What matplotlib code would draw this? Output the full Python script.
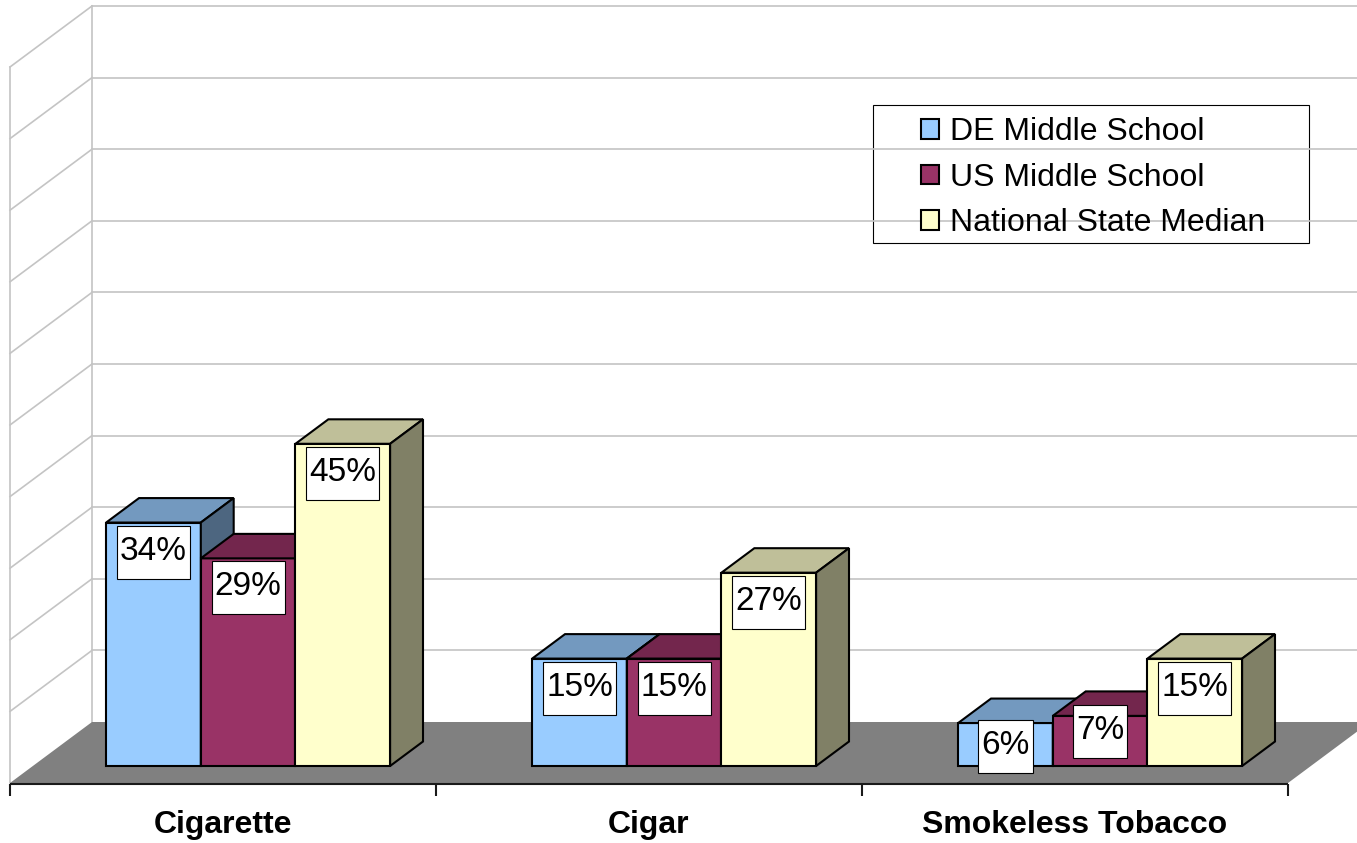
import matplotlib
matplotlib.use('Agg')
import matplotlib.pyplot as plt
from matplotlib.patches import Polygon, Rectangle, Patch
from matplotlib.colors import to_rgb

# ---------------- data ----------------
categories = ['Cigarette', 'Cigar', 'Smokeless Tobacco']
series_names = ['DE Middle School', 'US Middle School', 'National State Median']
de_middle = [34, 15, 6]
us_middle = [29, 15, 7]
national_median = [45, 27, 15]
series_values = [de_middle, us_middle, national_median]
y_max = 100
grid_step = 10

# ---------------- style / layout ----------------
front_colors = ['#99CCFF', '#993366', '#FFFFCC']
FONT = 'Liberation Sans'
W, H, DPI = 1357, 843, 100
PX_LEFT = 10          # front-left corner of floor (px)
PX_CAT = 426          # px per category at the floor front
PX_PER_PCT = 7.16     # px per percent
PX_FLOOR_FRONT = 783  # pixel row of the floor front edge
DEPTH_DX, DEPTH_DY = 82, 61   # px shift from floor front to floor back
BAR_D0, BAR_D1 = 0.279, 0.68  # bar depth range (0=front, 1=back)
BAR_W = 0.2222
BAR_LEFT = 0.172
LABEL_DROP_DEFAULT = 4.0
LABEL_DROP = {(0, 2): 3.2, (1, 2): 2.1}   # (series, category) -> drop in %

plt.rcParams['font.family'] = [FONT, 'DejaVu Sans']

fig = plt.figure(figsize=(W / DPI, H / DPI), dpi=DPI)
ax = fig.add_axes([0, 0, 1, 1])
ax.axis('off')
ax.set_xlim(-PX_LEFT / PX_CAT, (W - PX_LEFT) / PX_CAT)
ax.set_ylim((PX_FLOOR_FRONT - H) / PX_PER_PCT, PX_FLOOR_FRONT / PX_PER_PCT)


def proj(x, d, v):
    """x: category units at the front, d: depth 0..1, v: value in percent."""
    return (x + d * DEPTH_DX / PX_CAT, v + d * DEPTH_DY / PX_PER_PCT)


n_cat = len(categories)
grid_color = '#c4c4c4'

# floor
floor = Polygon([proj(0, 0, 0), proj(0, 1, 0), proj(n_cat, 1, 0), proj(n_cat, 0, 0)],
                closed=True, facecolor='#808080', edgecolor='none', zorder=2)
ax.add_patch(floor)

# walls & gridlines
for v in range(grid_step, y_max + 1, grid_step):
    xs, ys = zip(proj(0, 1, v), proj(n_cat + 0.2, 1, v))
    ax.plot(xs, ys, color=grid_color, lw=1.2, zorder=1)
    xs, ys = zip(proj(0, 0, v), proj(0, 1, v))
    ax.plot(xs, ys, color=grid_color, lw=1.2, zorder=1)
for d in (0, 1):
    xs, ys = zip(proj(0, d, 0), proj(0, d, y_max))
    ax.plot(xs, ys, color=grid_color, lw=1.2, zorder=1)

# category axis line & ticks
ax_off = -1.0 / PX_PER_PCT
ax.plot([0, n_cat], [ax_off, ax_off], color='#1a1a1a', lw=1.5, zorder=2.5,
        solid_capstyle='butt')
for i in range(n_cat + 1):
    ax.plot([i, i], [ax_off, ax_off - 12 / PX_PER_PCT], color='#1a1a1a', lw=1.5,
            zorder=2.5, solid_capstyle='butt')
for i, c in enumerate(categories):
    ax.text(i + 0.5, (PX_FLOOR_FRONT - 825) / PX_PER_PCT, c, ha='center', va='center',
            fontsize=23, fontweight='bold', color='black')


def shade(c, f):
    r, g, b = to_rgb(c)
    return (r * f, g * f, b * f)


# bars
z = 3.0
label_texts = []
for i in range(n_cat):
    for j, vals in enumerate(series_values):
        v = vals[i]
        x0 = i + BAR_LEFT + j * BAR_W
        x1 = x0 + BAR_W
        col = front_colors[j]
        front = [proj(x0, BAR_D0, 0), proj(x1, BAR_D0, 0), proj(x1, BAR_D0, v), proj(x0, BAR_D0, v)]
        top = [proj(x0, BAR_D0, v), proj(x1, BAR_D0, v), proj(x1, BAR_D1, v), proj(x0, BAR_D1, v)]
        side = [proj(x1, BAR_D0, 0), proj(x1, BAR_D1, 0), proj(x1, BAR_D1, v), proj(x1, BAR_D0, v)]
        for poly, fc in ((front, col), (top, shade(col, 0.75)), (side, shade(col, 0.5))):
            ax.add_patch(Polygon(poly, closed=True, facecolor=fc, edgecolor='black',
                                 lw=1.5, joinstyle='miter', zorder=z))
            z += 0.001
        drop = LABEL_DROP.get((j, i), LABEL_DROP_DEFAULT)
        tx, ty = proj((x0 + x1) / 2, BAR_D0, v - drop)
        t = ax.text(tx, ty, f'{v}%', ha='center', va='center', fontsize=24,
                    color='black', zorder=11)
        label_texts.append(t)

# label boxes (sized from rendered text)
fig.canvas.draw()
renderer = fig.canvas.get_renderer()
inv = ax.transData.inverted()
for t in label_texts:
    bb = t.get_window_extent(renderer)
    cx, cy = (bb.x0 + bb.x1) / 2, (bb.y0 + bb.y1) / 2
    w = bb.width + 6
    h = 53
    (dx0, dy0) = inv.transform((cx - w / 2, cy - h / 2 - 1))
    (dx1, dy1) = inv.transform((cx + w / 2, cy + h / 2 - 1))
    ax.add_patch(Rectangle((dx0, dy0), dx1 - dx0, dy1 - dy0, facecolor='white',
                           edgecolor='black', lw=0.8, zorder=10))

# legend
handles = [Patch(facecolor=c, edgecolor='black', lw=1.5) for c in front_colors]
leg = fig.legend(handles, series_names, loc='upper left',
                 bbox_to_anchor=(921 / W, 1 - 117 / H), bbox_transform=fig.transFigure,
                 frameon=False, fontsize=23, borderpad=0, borderaxespad=0,
                 handlelength=0.57, handleheight=0.57, handletextpad=0.33,
                 labelspacing=0.49)
fig.add_artist(Rectangle((873 / W, 1 - 243 / H), (1309 - 873) / W, (243 - 105) / H,
                         transform=fig.transFigure, facecolor='white',
                         edgecolor='black', lw=0.8, zorder=0))
leg.set_zorder(5)

fig.savefig('out.png', dpi=DPI)
